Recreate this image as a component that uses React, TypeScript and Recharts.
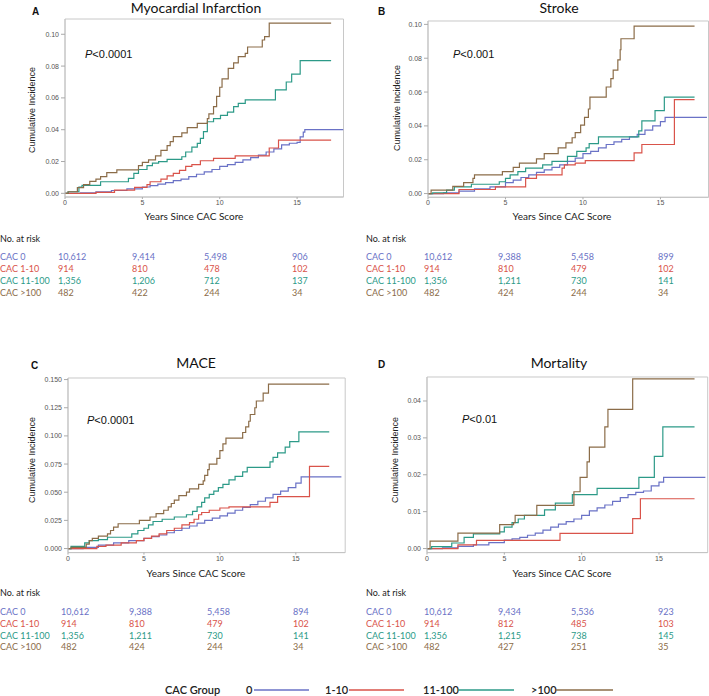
import React from 'react';
import { LineChart, Line, XAxis, YAxis, ReferenceArea } from 'recharts';

// group colours (CAC 0, 1-10, 11-100, >100)
const BLUE = '#6a72c6';
const RED = '#d9534a';
const TEAL = '#2c9a88';
const BROWN = '#8b6c48';
const COLORS = [BLUE, RED, TEAL, BROWN];

const GROUPS = ['CAC 0', 'CAC 1-10', 'CAC 11-100', 'CAC >100'];
const LEGEND_LABELS = ['0', '1-10', '11-100', '>100'];
const X_TICKS = [0, 5, 10, 15];

// ---- Myocardial infarction: [years, cumulative incidence]
const MI_CAC0 = [[0, 0], [1, 0.0003], [2, 0.001], [3, 0.0018], [4, 0.0028], [5, 0.004], [5.5, 0.0048], [6, 0.0058], [6.5, 0.0068], [7, 0.008], [7.5, 0.009], [8, 0.0105], [8.5, 0.012], [9, 0.0135], [9.5, 0.015], [10, 0.017], [10.5, 0.018], [11, 0.0195], [11.5, 0.021], [12, 0.0225], [12.5, 0.024], [13, 0.026], [13.5, 0.028], [14, 0.0305], [14.5, 0.0315], [15, 0.032], [15.2, 0.0355], [15.4, 0.0385], [15.5, 0.04], [18, 0.04]];
const MI_CAC1 = [[0, 0], [2, 0.0006], [3.2, 0.002], [4.5, 0.0038], [5.3, 0.0055], [5.5, 0.0073], [6.2, 0.009], [6.6, 0.011], [7, 0.0125], [7.4, 0.0145], [7.8, 0.017], [8.2, 0.018], [8.75, 0.0205], [9.6, 0.022], [11, 0.0235], [13.2, 0.0285], [13.8, 0.0335], [17.2, 0.0335]];
const MI_CAC11 = [[0, 0], [0.2, 0.001], [0.9, 0.004], [1.1, 0.005], [2.3, 0.0073], [4.1, 0.0094], [4.45, 0.0126], [4.75, 0.015], [5.3, 0.0174], [5.65, 0.019], [6.05, 0.02], [6.6, 0.0214], [7.55, 0.023], [7.8, 0.026], [8.2, 0.029], [8.55, 0.0314], [8.75, 0.0346], [8.95, 0.0388], [9.2, 0.045], [9.6, 0.047], [10.05, 0.049], [10.5, 0.051], [10.9, 0.0545], [11.2, 0.0566], [11.65, 0.0587], [13.6, 0.065], [14.3, 0.07], [14.65, 0.075], [15.2, 0.0834], [17.2, 0.0834]];
const MI_CAC100 = [[0, 0], [0.2, 0.001], [0.8, 0.0036], [1.2, 0.0055], [1.6, 0.0075], [2, 0.009], [2.3, 0.0105], [2.7, 0.013], [3.35, 0.0147], [4.75, 0.0174], [5, 0.0195], [5.4, 0.021], [5.85, 0.0235], [6.2, 0.027], [6.6, 0.03], [6.8, 0.0325], [7, 0.0356], [7.55, 0.038], [7.9, 0.0413], [8.55, 0.044], [9.2, 0.047], [9.3, 0.05], [9.6, 0.0545], [9.8, 0.061], [10, 0.0667], [10.15, 0.072], [10.55, 0.0786], [10.9, 0.082], [11.2, 0.086], [11.65, 0.088], [11.8, 0.092], [12.75, 0.0964], [12.9, 0.0985], [13.2, 0.107], [17.2, 0.107]];
const MI_RISK = [[10612, 9414, 5498, 906], [914, 810, 478, 102], [1356, 1206, 712, 137], [482, 422, 244, 34]];

// ---- Stroke
const ST_CAC0 = [[0, 0], [1, 0.0005], [2, 0.0015], [3, 0.0028], [4, 0.004], [5, 0.0065], [5.5, 0.008], [6, 0.0095], [6.5, 0.011], [7, 0.0125], [7.5, 0.014], [8, 0.0155], [8.5, 0.017], [9, 0.019], [9.5, 0.021], [10, 0.0236], [10.5, 0.025], [11, 0.027], [11.5, 0.029], [12, 0.0305], [12.5, 0.032], [13, 0.0335], [13.5, 0.035], [14, 0.0375], [14.5, 0.04], [15, 0.0425], [15.3, 0.045], [18, 0.045]];
const ST_CAC1 = [[0, 0], [2, 0.0024], [4.35, 0.004], [6.3, 0.009], [7, 0.011], [8.65, 0.015], [8.8, 0.017], [9.5, 0.018], [10.15, 0.0195], [13.3, 0.024], [13.8, 0.029], [15.9, 0.0555], [17.2, 0.0555]];
const ST_CAC11 = [[0, 0], [0.3, 0.0005], [1.2, 0.002], [1.7, 0.004], [2.8, 0.0055], [4.6, 0.007], [5, 0.009], [5.3, 0.011], [5.8, 0.013], [6.3, 0.015], [7.4, 0.017], [8, 0.019], [9, 0.022], [9.6, 0.025], [10.2, 0.027], [10.4, 0.0295], [11, 0.0335], [13.6, 0.037], [13.8, 0.043], [14.65, 0.049], [15.25, 0.057], [17.2, 0.057]];
const ST_CAC100 = [[0, 0], [0.2, 0.002], [1.6, 0.0043], [2.3, 0.0065], [2.9, 0.009], [3, 0.011], [4.8, 0.013], [5.5, 0.0155], [5.9, 0.018], [7, 0.0205], [7.5, 0.0236], [8.4, 0.027], [8.9, 0.03], [9.3, 0.033], [9.5, 0.036], [9.85, 0.0405], [10.1, 0.045], [10.35, 0.05], [10.45, 0.057], [11.5, 0.063], [11.8, 0.068], [11.95, 0.073], [12.25, 0.079], [12.4, 0.085], [12.45, 0.0915], [13.3, 0.099], [17.2, 0.099]];
const ST_RISK = [[10612, 9388, 5458, 899], [914, 810, 479, 102], [1356, 1211, 730, 141], [482, 424, 244, 34]];

// ---- MACE
const MA_CAC0 = [[0, 0], [1, 0.001], [2, 0.003], [3, 0.005], [4, 0.007], [5, 0.009], [5.5, 0.0105], [6, 0.012], [6.5, 0.014], [7, 0.016], [7.5, 0.018], [8, 0.02], [8.5, 0.0225], [9, 0.025], [9.5, 0.027], [10, 0.029], [10.5, 0.0315], [11, 0.034], [11.5, 0.0365], [12, 0.039], [12.5, 0.042], [13, 0.045], [13.5, 0.048], [14, 0.051], [14.5, 0.054], [15, 0.058], [15.35, 0.0636], [18, 0.0636]];
const MA_CAC1 = [[0, 0], [1.9, 0.002], [2.5, 0.003], [3.5, 0.005], [4.5, 0.007], [5, 0.009], [5.5, 0.011], [6, 0.013], [6.5, 0.016], [7, 0.018], [7.5, 0.021], [8, 0.023], [8.3, 0.026], [8.6, 0.03], [8.8, 0.032], [9.3, 0.034], [10, 0.036], [10.6, 0.037], [13.3, 0.041], [13.8, 0.046], [15.9, 0.073], [17.2, 0.073]];
const MA_CAC11 = [[0, 0], [0.2, 0.002], [1.1, 0.005], [1.4, 0.007], [2, 0.008], [2.6, 0.01], [4.2, 0.013], [4.6, 0.016], [5, 0.018], [5.3, 0.021], [5.6, 0.024], [6.2, 0.026], [7, 0.028], [7.8, 0.03], [8.2, 0.033], [8.5, 0.037], [8.8, 0.041], [9, 0.045], [9.3, 0.048], [9.6, 0.051], [9.9, 0.054], [10.2, 0.057], [10.6, 0.061], [11, 0.064], [11.5, 0.068], [11.8, 0.072], [13.3, 0.077], [13.5, 0.081], [13.8, 0.085], [14.3, 0.09], [14.6, 0.095], [15.2, 0.1035], [17.2, 0.1035]];
const MA_CAC100 = [[0, 0], [0.2, 0.001], [1.2, 0.004], [1.4, 0.007], [1.6, 0.009], [2, 0.011], [2.6, 0.013], [2.8, 0.016], [3, 0.019], [3.3, 0.022], [4.7, 0.025], [5.4, 0.028], [5.8, 0.031], [6.3, 0.034], [6.6, 0.037], [6.8, 0.04], [7, 0.043], [7.3, 0.047], [7.8, 0.05], [8, 0.053], [8.6, 0.057], [8.9, 0.06], [9, 0.065], [9.2, 0.07], [9.3, 0.075], [9.8, 0.08], [10, 0.087], [10.2, 0.093], [10.4, 0.098], [11.5, 0.103], [11.7, 0.108], [11.9, 0.113], [12, 0.119], [12.3, 0.125], [12.4, 0.131], [12.85, 0.138], [13.2, 0.146], [17.2, 0.146]];
const MA_RISK = [[10612, 9388, 5458, 894], [914, 810, 479, 102], [1356, 1211, 730, 141], [482, 424, 244, 34]];

// ---- Mortality
const MO_CAC0 = [[0, 0], [1, 0.0002], [2, 0.0006], [3, 0.001], [4, 0.0016], [5, 0.0023], [5.5, 0.0026], [6, 0.003], [6.5, 0.0036], [7, 0.0042], [7.5, 0.005], [8, 0.0058], [8.5, 0.0066], [9, 0.0073], [9.5, 0.008], [10, 0.009], [10.5, 0.0102], [11, 0.011], [11.5, 0.0118], [12, 0.0128], [12.5, 0.0138], [13, 0.0146], [13.5, 0.0152], [14, 0.0156], [14.5, 0.017], [15, 0.018], [15.3, 0.0193], [18, 0.0193]];
const MO_CAC1 = [[0, 0], [2, 0.001], [3.2, 0.0022], [8.6, 0.0041], [13.3, 0.0081], [13.8, 0.0135], [17.3, 0.0135]];
const MO_CAC11 = [[0, 0], [0.3, 0.0005], [1.6, 0.0015], [2.4, 0.003], [3, 0.004], [4.7, 0.0045], [5, 0.0058], [5.5, 0.007], [5.9, 0.008], [6.3, 0.009], [7.6, 0.0105], [8.3, 0.0123], [9.4, 0.0146], [11, 0.0163], [13.7, 0.0193], [14.7, 0.025], [15.25, 0.033], [17.3, 0.033]];
const MO_CAC100 = [[0, 0], [0.2, 0.002], [2, 0.0042], [4.7, 0.0065], [5.6, 0.007], [5.7, 0.009], [7.1, 0.0117], [9.5, 0.0154], [9.9, 0.0193], [10.35, 0.0235], [10.5, 0.0275], [11.5, 0.033], [11.7, 0.0377], [13.3, 0.046], [17.3, 0.046]];
const MO_RISK = [[10612, 9434, 5536, 923], [914, 812, 485, 103], [1356, 1215, 738, 145], [482, 427, 251, 35]];

const PANELS = [
  {
    letter: 'A', title: 'Myocardial Infarction', p: '<0.0001',
    series: [MI_CAC0, MI_CAC1, MI_CAC11, MI_CAC100], risk: MI_RISK,
    box: { x0: 64.5, x1: 343, y0: 19, y1: 197 }, xMax: 18, yMin: -0.0023, yMax: 0.1096,
    yTicks: [0, 0.02, 0.04, 0.06, 0.08, 0.1], dec: 2,
    letterPos: [32, 15], titlePos: [196, 13], pPos: [85, 58], yLab: [32, 110], xLab: [194, 220],
    table: { x: 0, y: 242, rows: [260, 272, 284, 295.5], cols: [58, 132, 204, 292] },
  },
  {
    letter: 'B', title: 'Stroke', p: '<0.001',
    series: [ST_CAC0, ST_CAC1, ST_CAC11, ST_CAC100], risk: ST_RISK,
    box: { x0: 427.5, x1: 708, y0: 20.7, y1: 197 }, xMax: 18.1, yMin: -0.0022, yMax: 0.102,
    yTicks: [0, 0.02, 0.04, 0.06, 0.08, 0.1], dec: 2,
    letterPos: [378, 15], titlePos: [559, 13], pPos: [453, 58], yLab: [397, 108], xLab: [562, 220],
    table: { x: 366, y: 242, rows: [260, 272, 284, 295.5], cols: [424, 498, 571, 658] },
  },
  {
    letter: 'C', title: 'MACE', p: '<0.0001',
    series: [MA_CAC0, MA_CAC1, MA_CAC11, MA_CAC100], risk: MA_RISK,
    box: { x0: 68.3, x1: 345.5, y0: 377.7, y1: 552.3 }, xMax: 18.25, yMin: -0.0036, yMax: 0.1514,
    yTicks: [0, 0.025, 0.05, 0.075, 0.1, 0.125, 0.15], dec: 3,
    letterPos: [31, 369], titlePos: [196, 368], pPos: [87, 424], yLab: [32, 460], xLab: [196, 577],
    table: { x: 0, y: 596, rows: [615, 627, 638.5, 650], cols: [61, 129, 207, 293] },
  },
  {
    letter: 'D', title: 'Mortality', p: '<0.01',
    series: [MO_CAC0, MO_CAC1, MO_CAC11, MO_CAC100], risk: MO_RISK,
    box: { x0: 427.3, x1: 708, y0: 376.7, y1: 552.3 }, xMax: 18.15, yMin: -0.0011, yMax: 0.0465,
    yTicks: [0, 0.01, 0.02, 0.03, 0.04], dec: 2,
    letterPos: [378, 368], titlePos: [559, 368], pPos: [462, 423], yLab: [395, 460], xLab: [562, 577],
    table: { x: 366, y: 596, rows: [615, 627, 638.5, 650], cols: [424, 498, 571, 658] },
  },
];

const AXIS_FONT = 'Arial, "Liberation Sans", sans-serif';
const TEXT_FONT = 'Lato, "Open Sans", sans-serif';
const YW = 40;
const MT = 4;
const MR = 2;
const XH = 16;

const Panel = ({ cfg }: { cfg: any }) => {
  const { box } = cfg;
  const w = box.x1 - box.x0 + YW + MR;
  const h = box.y1 - box.y0 + MT + XH;
  return (
    <div style={{ position: 'absolute', left: box.x0 - YW, top: box.y0 - MT }}>
      <LineChart width={w} height={h} margin={{ top: MT, right: MR, bottom: 0, left: 0 }}>
        <XAxis
          type="number"
          dataKey="t"
          domain={[0, cfg.xMax]}
          ticks={X_TICKS}
          allowDataOverflow
          height={XH}
          tickSize={2}
          tickMargin={1}
          tick={{ fontSize: 7, fill: '#555', fontFamily: AXIS_FONT }}
          axisLine={{ stroke: '#c4c4c4' }}
          tickLine={{ stroke: '#aaa' }}
        />
        <YAxis
          type="number"
          domain={[cfg.yMin, cfg.yMax]}
          ticks={cfg.yTicks}
          allowDataOverflow
          width={YW}
          tickSize={4}
          tickMargin={2}
          tickFormatter={(v: number) => v.toFixed(cfg.dec)}
          tick={{ fontSize: 7, fill: '#555', fontFamily: AXIS_FONT }}
          axisLine={{ stroke: '#c4c4c4' }}
          tickLine={{ stroke: '#aaa' }}
        />
        <ReferenceArea
          x1={0}
          x2={cfg.xMax}
          y1={cfg.yMin}
          y2={cfg.yMax}
          fill="none"
          stroke="#c8c8c8"
          strokeWidth={1}
          ifOverflow="visible"
        />
        {cfg.series.map((s: number[][], i: number) => (
          <Line
            key={GROUPS[i]}
            data={s.map(([t, v]) => ({ t, v }))}
            dataKey="v"
            type="stepAfter"
            stroke={COLORS[i]}
            strokeWidth={1.2}
            dot={false}
            activeDot={false}
            isAnimationActive={false}
          />
        ))}
      </LineChart>
    </div>
  );
};

const PanelText = ({ cfg }: { cfg: any }) => (
  <g>
    <text x={cfg.letterPos[0]} y={cfg.letterPos[1]} fontFamily={AXIS_FONT} fontWeight="bold" fontSize={10} fill="#111">
      {cfg.letter}
    </text>
    <text x={cfg.titlePos[0]} y={cfg.titlePos[1]} textAnchor="middle" fontFamily={TEXT_FONT} fontSize={14} fill="#111">
      {cfg.title}
    </text>
    <text x={cfg.pPos[0]} y={cfg.pPos[1]} fontFamily={AXIS_FONT} fontSize={11} fill="#111">
      <tspan fontStyle="italic">P</tspan>
      {cfg.p}
    </text>
    <text
      x={cfg.yLab[0]}
      y={cfg.yLab[1]}
      transform={`rotate(-90 ${cfg.yLab[0]} ${cfg.yLab[1]})`}
      textAnchor="middle"
      dominantBaseline="central"
      fontFamily={AXIS_FONT}
      fontSize={9}
      fill="#222"
    >
      Cumulative Incidence
    </text>
    <text x={cfg.xLab[0]} y={cfg.xLab[1]} textAnchor="middle" fontFamily={TEXT_FONT} fontSize={10} fill="#222">
      Years Since CAC Score
    </text>
    <text x={cfg.table.x} y={cfg.table.y} fontFamily={TEXT_FONT} fontSize={9} fill="#222">
      No. at risk
    </text>
    {GROUPS.map((g, r) => (
      <g key={g} fill={COLORS[r]} fontFamily={TEXT_FONT} fontSize={9}>
        <text x={cfg.table.x} y={cfg.table.rows[r]}>{g}</text>
        {cfg.risk[r].map((n: number, c: number) => (
          <text key={c} x={cfg.table.cols[c]} y={cfg.table.rows[r]}>
            {n.toLocaleString('en-US')}
          </text>
        ))}
      </g>
    ))}
  </g>
);

// legend layout: [label x, line x1, line x2]
const LEGEND_POS = [
  [246, 254, 309],
  [325, 349, 404],
  [423, 458, 514],
  [531, 556, 613],
];

const App = () => (
  <div style={{ position: 'absolute', left: 0, top: 0, width: 709, height: 696, background: '#fff', overflow: 'hidden' }}>
    {PANELS.map((cfg) => (
      <Panel key={cfg.letter} cfg={cfg} />
    ))}
    <svg width={709} height={696} style={{ position: 'absolute', left: 0, top: 0, pointerEvents: 'none' }}>
      {PANELS.map((cfg) => (
        <PanelText key={cfg.letter} cfg={cfg} />
      ))}
      <text x={165} y={694} fontFamily={TEXT_FONT} fontSize={11} fontWeight={600} fill="#222">
        CAC Group
      </text>
      {LEGEND_LABELS.map((l, i) => (
        <g key={l}>
          <text x={LEGEND_POS[i][0]} y={694} fontFamily={TEXT_FONT} fontSize={11} fontWeight={600} fill="#222">
            {l}
          </text>
          <line x1={LEGEND_POS[i][1]} x2={LEGEND_POS[i][2]} y1={690} y2={690} stroke={COLORS[i]} strokeWidth={1.3} />
        </g>
      ))}
    </svg>
  </div>
);

export default App;
